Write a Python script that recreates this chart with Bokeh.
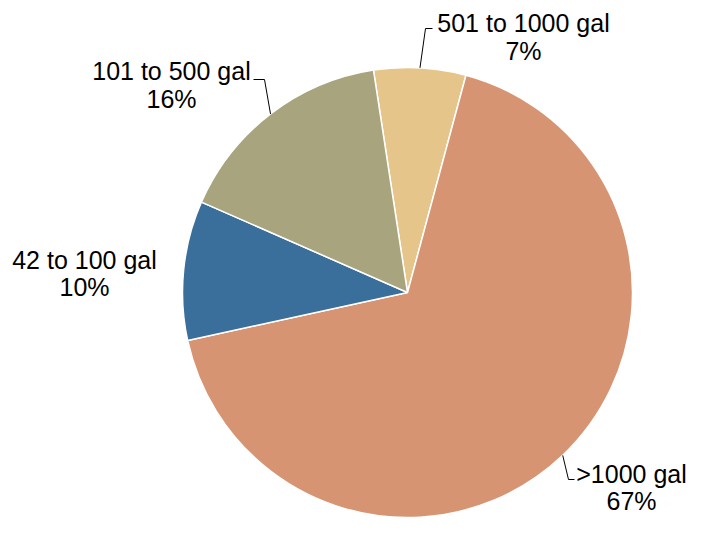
import math
from bokeh.plotting import figure
from bokeh.models import Range1d, ColumnDataSource
from bokeh.embed import file_html
from bokeh.resources import INLINE
from bokeh.core.properties import value

# ---- data ----
categories = ["501 to 1000 gal", ">1000 gal", "42 to 100 gal", "101 to 500 gal"]
shares = [6.6, 67.4, 10.0, 16.0]
colors = ["#E5C589", "#D69473", "#3A6F9B", "#A8A57E"]

# ---- layout (picture pixel coordinates, from top-left) ----
label_x = [523, 631, 84, 171]
name_y = [22, 473, 259, 70.5]
pct_y = [50, 500, 286, 98]
# leader elbows: list of (x, y) after the pie-edge point; None = no leader
leaders = [[(425, 28), (432, 28)],
           [(568, 479), (574, 479)],
           None,
           [(264, 79), (253, 79)]]

W, H = 693, 518


def px(x):
    return x


def py(y):
    return H - y


cx, cy, R = px(407), py(292), 225
start_deg = 98.7
total = sum(shares)

starts, ends, mids = [], [], []
cum = 0.0
for s in shares:
    a0 = start_deg - cum / total * 360.0
    cum += s
    a1 = start_deg - cum / total * 360.0
    starts.append(math.radians(a0))
    ends.append(math.radians(a1))
    mids.append(math.radians((a0 + a1) / 2))

src = ColumnDataSource(dict(cat=categories, share=shares, color=colors,
                            start=starts, end=ends))

p = figure(width=W, height=H, x_range=Range1d(0, W), y_range=Range1d(0, H),
           output_backend="svg", toolbar_location=None, min_border=0,
           x_axis_type=None, y_axis_type=None,
           background_fill_color="white", border_fill_color="white",
           outline_line_color=None)
p.grid.visible = False

p.wedge(x=cx, y=cy, radius=R, start_angle="start", end_angle="end",
        direction="clock", fill_color="color", line_color="white",
        line_width=1.5, source=src)

# leader lines
xs, ys = [], []
for m, ld in zip(mids, leaders):
    if ld is None:
        continue
    x0 = cx + R * math.cos(m)
    y0 = cy + R * math.sin(m)
    xs.append([x0] + [px(a) for a, b in ld])
    ys.append([y0] + [py(b) for a, b in ld])
p.multi_line(xs=xs, ys=ys, line_color="black", line_width=1)

pct_text = [f"{int(s / total * 100 + 0.5)}%" for s in shares]
lab = ColumnDataSource(dict(x=[px(v) for v in label_x],
                            yn=[py(v) for v in name_y],
                            yp=[py(v) for v in pct_y],
                            name=categories, pct=pct_text))
common = dict(text_font=value("Liberation Sans"), text_font_size="25px",
              text_align="center", text_baseline="middle", text_color="black",
              source=lab)
p.text(x="x", y="yn", text="name", **common)
p.text(x="x", y="yp", text="pct", **common)

open("out.html", "w").write(file_html(p, INLINE))
